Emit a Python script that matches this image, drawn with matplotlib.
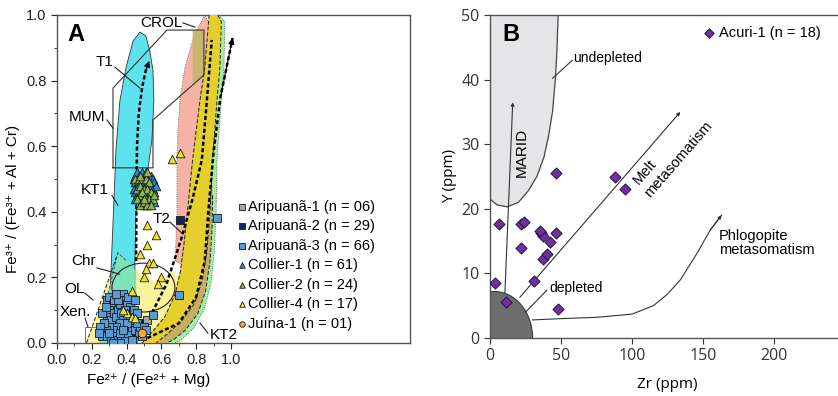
import matplotlib
matplotlib.use("Agg")
import matplotlib.pyplot as plt
from matplotlib.patches import Polygon, Ellipse, Rectangle
import numpy as np

plt.rcParams["font.family"] = ["Liberation Sans", "DejaVu Sans"]

# ---------------- panel A data: spinel compositions ----------------
ARIPUANA_1 = [(0.52, 0.07), (0.42, 0.02), (0.36, 0.03), (0.47, 0.05), (0.40, 0.01), (0.30, 0.06)]
ARIPUANA_2 = [(0.71, 0.375), (0.32, 0.09), (0.33, 0.11), (0.34, 0.10), (0.31, 0.08), (0.30, 0.12),
              (0.33, 0.06), (0.35, 0.04), (0.37, 0.06), (0.38, 0.08), (0.39, 0.05), (0.30, 0.03),
              (0.32, 0.02), (0.46, 0.03), (0.47, 0.06), (0.48, 0.04), (0.34, 0.13), (0.29, 0.10),
              (0.36, 0.09), (0.28, 0.05), (0.44, 0.04), (0.31, 0.13)]
ARIPUANA_3 = [(0.29, 0.13), (0.30, 0.14), (0.32, 0.12), (0.31, 0.11), (0.33, 0.13), (0.30, 0.10),
              (0.28, 0.09), (0.29, 0.08), (0.31, 0.07), (0.33, 0.09), (0.35, 0.10), (0.34, 0.08),
              (0.36, 0.12), (0.37, 0.14), (0.38, 0.15), (0.39, 0.13), (0.40, 0.12), (0.41, 0.14),
              (0.42, 0.11), (0.39, 0.10), (0.37, 0.09), (0.38, 0.07), (0.36, 0.06), (0.34, 0.05),
              (0.32, 0.04), (0.30, 0.05), (0.28, 0.04), (0.27, 0.03), (0.26, 0.02), (0.29, 0.02),
              (0.31, 0.01), (0.33, 0.02), (0.35, 0.01), (0.37, 0.02), (0.39, 0.01), (0.41, 0.03),
              (0.43, 0.05), (0.44, 0.07), (0.45, 0.04), (0.47, 0.03), (0.48, 0.05), (0.46, 0.06),
              (0.50, 0.05), (0.42, 0.08), (0.40, 0.06), (0.27, 0.06), (0.25, 0.05), (0.26, 0.09),
              (0.28, 0.11), (0.35, 0.13), (0.34, 0.15), (0.44, 0.10), (0.46, 0.09), (0.36, 0.03),
              (0.38, 0.04), (0.30, 0.03), (0.24, 0.03), (0.49, 0.02), (0.43, 0.01), (0.36, 0.00),
              (0.32, 0.00), (0.70, 0.145), (0.92, 0.38), (0.55, 0.085), (0.51, 0.04), (0.45, 0.13)]
COLLIER_1 = [(0.44, 0.50), (0.45, 0.51), (0.46, 0.52), (0.47, 0.51), (0.48, 0.50), (0.49, 0.52),
             (0.50, 0.51), (0.51, 0.52), (0.52, 0.51), (0.53, 0.50), (0.54, 0.51), (0.55, 0.50),
             (0.56, 0.49), (0.45, 0.49), (0.46, 0.48), (0.47, 0.49), (0.48, 0.47), (0.49, 0.48),
             (0.50, 0.49), (0.51, 0.48), (0.52, 0.49), (0.53, 0.47), (0.54, 0.48), (0.55, 0.47),
             (0.56, 0.46), (0.57, 0.48), (0.44, 0.47), (0.45, 0.46), (0.46, 0.45), (0.47, 0.46),
             (0.48, 0.44), (0.49, 0.45), (0.50, 0.46), (0.51, 0.45), (0.52, 0.44), (0.53, 0.45),
             (0.54, 0.44), (0.55, 0.45), (0.56, 0.43), (0.45, 0.44), (0.47, 0.43), (0.49, 0.43),
             (0.51, 0.42), (0.53, 0.43)]
COLLIER_2 = [(0.45, 0.50), (0.47, 0.50), (0.49, 0.50), (0.51, 0.50), (0.53, 0.49), (0.46, 0.47),
             (0.48, 0.48), (0.50, 0.47), (0.52, 0.47), (0.54, 0.46), (0.47, 0.45), (0.49, 0.46),
             (0.51, 0.44), (0.53, 0.44), (0.55, 0.44), (0.46, 0.44), (0.48, 0.42), (0.50, 0.43),
             (0.52, 0.42), (0.54, 0.42), (0.56, 0.45), (0.50, 0.44), (0.48, 0.51), (0.52, 0.52)]
COLLIER_4 = [(0.66, 0.56), (0.71, 0.58), (0.52, 0.36), (0.57, 0.33), (0.52, 0.30), (0.48, 0.27),
             (0.53, 0.245), (0.55, 0.245), (0.51, 0.225), (0.50, 0.20), (0.60, 0.20), (0.58, 0.18),
             (0.43, 0.16), (0.40, 0.09), (0.43, 0.08), (0.45, 0.075), (0.38, 0.10)]
JUINA_1 = [(0.49, 0.03)]

SERIES_A = [
    ("Aripuanã-1 (n = 06)", ARIPUANA_1, "s", "#a6a6a6"),
    ("Aripuanã-2 (n = 29)", ARIPUANA_2, "s", "#14245a"),
    ("Aripuanã-3 (n = 66)", ARIPUANA_3, "s", "#5b9bd5"),
    ("Collier-1 (n = 61)", COLLIER_1, "^", "#2b8fd6"),
    ("Collier-2 (n = 24)", COLLIER_2, "^", "#86b84a"),
    ("Collier-4 (n = 17)", COLLIER_4, "^", "#f0e22a"),
    ("Juína-1 (n = 01)", JUINA_1, "o", "#f2a93b"),
]

# field outlines (Fe2+/(Fe2+ + Mg), Fe3+/(Fe3+ + Al + Cr))
CYAN_FIELD = [(0.305, 0.15), (0.316, 0.29), (0.328, 0.44), (0.339, 0.59), (0.362, 0.74), (0.397, 0.84),
              (0.437, 0.92), (0.477, 0.948), (0.511, 0.936), (0.534, 0.89), (0.552, 0.83), (0.557, 0.74),
              (0.546, 0.62), (0.523, 0.53), (0.48, 0.47), (0.454, 0.40), (0.448, 0.25), (0.448, 0.15)]
CHR_FIELD = [(0.24, 0.0), (0.28, 0.12), (0.35, 0.275), (0.40, 0.25), (0.455, 0.22), (0.46, 0.0)]
OL_FIELD = [(0.17, 0.0), (0.35, 0.275), (0.44, 0.235), (0.50, 0.20), (0.56, 0.19), (0.62, 0.20),
            (0.66, 0.22), (0.70, 0.20), (0.72, 0.12), (0.72, 0.0)]
PINK_FIELD = [(0.68, 0.25), (0.69, 0.40), (0.69, 0.56), (0.695, 0.64), (0.707, 0.741), (0.736, 0.841),
              (0.793, 0.945), (0.851, 1.0), (0.875, 0.97), (0.872, 0.85), (0.85, 0.72), (0.80, 0.56),
              (0.76, 0.42), (0.73, 0.30), (0.715, 0.24)]
GOLD_IN = [(0.875, 1.0), (0.85, 0.84), (0.822, 0.74), (0.78, 0.56), (0.75, 0.40), (0.73, 0.30),
           (0.71, 0.22), (0.68, 0.15), (0.62, 0.08), (0.55, 0.035), (0.49, 0.0)]
GOLD_OUT = [(0.925, 1.0), (0.945, 0.98), (0.937, 0.84), (0.92, 0.74), (0.895, 0.56), (0.88, 0.40),
            (0.862, 0.28), (0.835, 0.19), (0.79, 0.12), (0.72, 0.07), (0.64, 0.03), (0.57, 0.0)]
TAN_OUT = [(0.895, 0.45), (0.892, 0.35), (0.88, 0.25), (0.855, 0.16), (0.81, 0.09), (0.74, 0.04),
           (0.67, 0.01), (0.63, 0.0)]
GREEN_OUT = [(0.93, 1.0), (0.965, 0.98), (0.96, 0.84), (0.945, 0.74), (0.92, 0.56), (0.915, 0.40),
             (0.905, 0.28), (0.885, 0.18), (0.845, 0.10), (0.785, 0.045), (0.715, 0.01), (0.675, 0.0)]
CROL_FIELD = [(0.78, 0.954), (0.845, 0.954), (0.845, 0.817), (0.78, 0.79)]
MUM_FIELD = [(0.322, 0.534), (0.322, 0.777), (0.632, 0.954), (0.845, 0.954), (0.845, 0.817),
             (0.552, 0.68), (0.552, 0.534)]
XEN_BOX = (0.16, 0.0, 0.30, 0.05)          # x, y, width, height
CHR_CIRCLE = (0.497, 0.169, 0.362, 0.149)  # centre x, centre y, width, height

T1_TREND = [(0.455, 0.25), (0.457, 0.45), (0.46, 0.60), (0.47, 0.70), (0.49, 0.78), (0.51, 0.83), (0.53, 0.86)]
T2_TREND = [(0.47, 0.05), (0.534, 0.079), (0.63, 0.18), (0.718, 0.323), (0.78, 0.44), (0.833, 0.558),
            (0.862, 0.741), (0.89, 0.924)]
KT2_TREND = [(0.52, 0.015), (0.70, 0.06), (0.80, 0.14), (0.85, 0.25), (0.87, 0.40), (0.90, 0.58),
             (0.94, 0.75), (1.01, 0.93)]

# labels: text, text position, leader start, leader end
LABELS_A = [
    ("CROL", (0.60, 0.976), (0.724, 0.976), (0.793, 0.963)),
    ("T1", (0.276, 0.857), (0.333, 0.841), (0.477, 0.777)),
    ("MUM", (0.172, 0.689), (0.287, 0.68), (0.322, 0.655)),
    ("KT1", (0.218, 0.466), (0.316, 0.45), (0.35, 0.42)),
    ("T2", (0.603, 0.378), (0.649, 0.369), (0.718, 0.335)),
    ("Chr", (0.155, 0.25), (0.23, 0.229), (0.36, 0.21)),
    ("OL", (0.103, 0.165), (0.161, 0.152), (0.207, 0.131)),
    ("Xen.", (0.103, 0.095), (0.161, 0.076), (0.178, 0.049)),
    ("KT2", (0.96, 0.024), (0.868, 0.03), (0.822, 0.061)),
]

# ---------------- panel B data: Zr vs Y ----------------
ACURI_ZR = [46.5, 88, 95, 6.3, 21.8, 24, 21.8, 36, 37.6, 42.3, 46.5, 37.6, 40, 31, 3.5, 11.3, 48, 35]
ACURI_Y = [25.5, 25, 23, 17.6, 17.6, 18, 13.9, 16.2, 15.8, 14.9, 16.3, 12.2, 13, 8.8, 8.5, 5.6, 4.5, 16.5]

UNDEPLETED_FIELD = [(0, 50), (48, 50), (47, 44), (46, 40), (44, 35), (41, 31), (38, 28), (33, 25),
                    (27, 22.8), (20, 21), (12, 20.3), (5, 20.6), (0, 21.5)]
MARID_LINE = [(10.5, 7), (16, 36.5)]
MELT_LINE = [(21, 6.3), (134, 35)]
PHLOG_CURVE = [(30, 2.8), (50, 3.0), (75, 3.2), (100, 3.7), (115, 5.0), (125, 6.8), (134, 9),
               (146, 13.2), (155, 16.7), (163, 19)]


def xy(points):
    return [p[0] for p in points], [p[1] for p in points]


def arrow(ax, start, end, color, scale, z):
    ax.annotate("", xy=end, xytext=start,
                arrowprops=dict(arrowstyle="-|>", color=color, lw=0.8, mutation_scale=scale,
                                shrinkA=0, shrinkB=0), zorder=z)


def draw_panel_a(ax):
    ax.set_xlim(0, 2.03)
    ax.set_ylim(0, 1.0)

    ax.add_patch(Polygon(OL_FIELD, closed=True, fc="#fbf29c", ec="none", zorder=1))
    ax.add_patch(Polygon(CYAN_FIELD, closed=True, fc="#5ee3ee", ec="#333333", lw=0.6, zorder=2))
    ax.add_patch(Polygon(CHR_FIELD, closed=True, fc="#86e3b0", ec="none", alpha=0.85, zorder=2.1))
    ax.add_patch(Polygon(PINK_FIELD, closed=True, fc="#f6b2a4", ec="#555555", lw=0.6, ls=":", zorder=2))
    ax.add_patch(Polygon(GREEN_OUT + GOLD_IN[::-1], closed=True, fc="#a2eea6", ec="none", zorder=3))
    ax.add_patch(Polygon(TAN_OUT + GOLD_IN[::-1], closed=True, fc="#c6ae66", ec="none", zorder=3.1))
    ax.add_patch(Polygon(GOLD_OUT + GOLD_IN[::-1], closed=True, fc="#e4cf2e", ec="none", zorder=3.2))
    ax.add_patch(Polygon(CROL_FIELD, closed=True, fc="#c9b66e", ec="none", zorder=3.3))

    gx, gy = xy(GREEN_OUT)
    ax.plot(gx, gy, color="#444444", lw=0.6, ls=":", zorder=3.5)
    for line in (GOLD_IN, GOLD_OUT, TAN_OUT):
        lx, ly = xy(line)
        ax.plot(lx, ly, color="#222222", lw=0.7, ls=(0, (4, 2)), zorder=3.5)
    ax.plot([OL_FIELD[0][0], OL_FIELD[1][0]], [OL_FIELD[0][1], OL_FIELD[1][1]],
            color="#222222", lw=0.7, ls=(0, (4, 2)), zorder=3.5)
    cx, cy = xy(CHR_FIELD)
    ax.plot(cx[1:4], cy[1:4], color="#444444", lw=0.6, ls=(0, (4, 2)), zorder=3.5)

    mx, my = xy(MUM_FIELD + MUM_FIELD[:1])
    ax.plot(mx, my, color="#333333", lw=0.8, zorder=4)
    x0, y0, w, h = XEN_BOX
    ax.add_patch(Rectangle((x0, y0), w, h, fc="none", ec="#777777", lw=0.7, zorder=4))
    ex, ey, ew, eh = CHR_CIRCLE
    ax.add_patch(Ellipse((ex, ey), ew, eh, fc="none", ec="#222222", lw=0.8, zorder=4))

    for trend, head in ((T1_TREND, True), (T2_TREND, False), (KT2_TREND, True)):
        tx, ty = xy(trend)
        ax.plot(tx, ty, color="black", lw=1.8, ls=(0, (1.6, 1.0)), zorder=5)
        if head:
            arrow(ax, trend[-2], trend[-1], "black", 9, 5)

    for text, pos, p0, p1 in LABELS_A:
        ax.text(pos[0], pos[1], text, fontsize=11, ha="center", va="center", zorder=7)
        ax.plot([p0[0], p1[0]], [p0[1], p1[1]], color="#222222", lw=0.8, zorder=7)

    for label, pts, marker, color in SERIES_A:
        px, py = xy(pts)
        ax.scatter(px, py, marker=marker, s=38, c=color, edgecolors="#1a1a1a",
                   linewidths=0.6, label=label, zorder=6)

    ax.text(0.06, 0.905, "A", fontsize=17, fontweight="bold", va="bottom", zorder=8)

    ax.set_xticks(np.arange(0, 1.01, 0.2))
    ax.set_xticks(np.arange(0.1, 1.0, 0.2), minor=True)
    ax.set_yticks(np.arange(0, 1.01, 0.2))
    ax.set_yticks(np.arange(0.1, 1.0, 0.2), minor=True)
    ax.xaxis.set_major_formatter(matplotlib.ticker.FormatStrFormatter("%.1f"))
    ax.yaxis.set_major_formatter(matplotlib.ticker.FormatStrFormatter("%.1f"))
    ax.tick_params(which="both", direction="out", labelsize=10.5, colors="#222222")
    ax.tick_params(which="major", length=4)
    ax.tick_params(which="minor", length=2.5)
    for sp in ax.spines.values():
        sp.set_color("#555555")
        sp.set_linewidth(1.0)

    ax.set_xlabel("Fe²⁺ / (Fe²⁺ + Mg)", fontsize=11)
    ax.xaxis.set_label_coords(0.26, -0.09)
    ax.set_ylabel("Fe³⁺ / (Fe³⁺ + Al + Cr)", fontsize=11)
    ax.yaxis.set_label_coords(-0.105, 0.44)

    ax.legend(loc="upper left", bbox_to_anchor=(0.49, 0.455), frameon=False, fontsize=10.5,
              handletextpad=0.05, handlelength=0.8, labelspacing=0.38, markerscale=0.65,
              borderaxespad=0)


def draw_panel_b(ax):
    ax.set_xlim(0, 245)
    ax.set_ylim(0, 50)

    ax.add_patch(Polygon(UNDEPLETED_FIELD, closed=True, fc="#e5e5e7", ec="#444444", lw=0.9, zorder=1))
    ax.add_patch(Ellipse((3, 0), 54, 14.4, fc="#6d6d6d", ec="#3a3a3a", lw=0.8, zorder=2))

    arrow(ax, MARID_LINE[0], MARID_LINE[1], "#333333", 5, 3)
    arrow(ax, MELT_LINE[0], MELT_LINE[1], "#333333", 5, 3)
    px, py = xy(PHLOG_CURVE)
    ax.plot(px, py, color="#333333", lw=0.8, zorder=3)
    arrow(ax, PHLOG_CURVE[-2], PHLOG_CURVE[-1], "#333333", 5, 3)

    ax.plot([58, 44], [43, 40.2], color="#333333", lw=0.8, zorder=3)
    ax.text(58.5, 43.4, "undepleted", fontsize=10, va="center", ha="left")
    ax.plot([40, 25], [7.4, 4], color="#333333", lw=0.8, zorder=3)
    ax.text(42, 7.7, "depleted", fontsize=10, va="center", ha="left")
    ax.text(22.6, 28.8, "MARID", fontsize=11, rotation=90, ha="center", va="center")
    ax.text(104.4, 23.7, "Melt", fontsize=10.5, rotation=49, rotation_mode="anchor",
            ha="left", va="baseline")
    ax.text(112.8, 21.7, "metasomatism", fontsize=10.5, rotation=49, rotation_mode="anchor",
            ha="left", va="baseline")
    ax.text(161, 16.8, "Phlogopite\nmetasomatism", fontsize=10.5, ha="left", va="top",
            linespacing=1.0)

    ax.scatter(ACURI_ZR, ACURI_Y, marker="D", s=32, c="#7030a0", edgecolors="#2a1040",
               linewidths=0.7, label="Acuri-1 (n = 18)", zorder=5)
    ax.legend(loc="upper left", bbox_to_anchor=(0.595, 0.985), frameon=False, fontsize=10.5,
              handletextpad=0.3, handlelength=0.8, markerscale=0.85, borderaxespad=0)

    ax.text(8.5, 47, "B", fontsize=17, fontweight="bold", va="center", ha="left")

    ax.set_xticks([0, 50, 100, 150, 200])
    ax.set_yticks([0, 10, 20, 30, 40, 50])
    ax.tick_params(direction="out", length=4, labelsize=11.5, colors="#333333")
    for lab in ax.get_xticklabels() + ax.get_yticklabels():
        lab.set_fontfamily(["Open Sans", "DejaVu Sans"])
    ax.spines["right"].set_visible(False)
    for sp in ("left", "bottom", "top"):
        ax.spines[sp].set_color("#555555")
        ax.spines[sp].set_linewidth(1.0)
    ax.set_xlabel("Zr (ppm)", fontsize=11, family=["Open Sans", "DejaVu Sans"])
    ax.xaxis.set_label_coords(0.51, -0.12)
    ax.set_ylabel("Y (ppm)", fontsize=11, family=["Open Sans", "DejaVu Sans"])
    ax.yaxis.set_label_coords(-0.095, 0.5)


def main():
    fig = plt.figure(figsize=(8.38, 3.96), dpi=100)
    ax_a = fig.add_axes([57 / 838, 1 - 343 / 396, (410 - 57) / 838, (343 - 15) / 396])
    ax_b = fig.add_axes([490 / 838, 1 - 338 / 396, (838 - 490) / 838, (338 - 15) / 396])
    draw_panel_a(ax_a)
    draw_panel_b(ax_b)
    fig.savefig("out.png", dpi=100)


if __name__ == "__main__":
    main()
